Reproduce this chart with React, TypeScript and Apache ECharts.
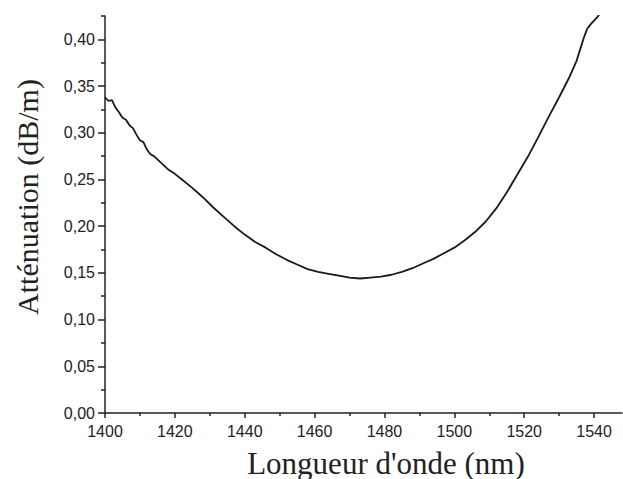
import React, { useEffect, useRef } from "react";
import * as echarts from "echarts";

const wavelengths = [
  1400, 1401, 1402, 1403, 1404, 1405, 1406, 1407, 1408, 1409, 1410, 1411, 1412, 1413, 1414,
  1416, 1418, 1420, 1422, 1425, 1428, 1431, 1434, 1437, 1440, 1443, 1446, 1449, 1452, 1455,
  1458, 1461, 1464, 1467, 1470, 1473, 1476, 1479, 1482, 1485, 1488, 1491, 1494, 1497, 1500,
  1503, 1506, 1509, 1512, 1515, 1518, 1521, 1524, 1527, 1530, 1533, 1535, 1536, 1537, 1538,
  1539, 1540, 1541, 1541.5,
];
const attenuation = [
  0.338, 0.334, 0.335, 0.327, 0.322, 0.316, 0.314, 0.308, 0.305, 0.298, 0.292, 0.29, 0.282, 0.277, 0.275,
  0.268, 0.261, 0.256, 0.25, 0.241, 0.231, 0.22, 0.21, 0.2, 0.191, 0.183, 0.177, 0.17, 0.164, 0.159,
  0.154, 0.151, 0.149, 0.147, 0.145, 0.144, 0.145, 0.146, 0.148, 0.151, 0.155, 0.16, 0.165, 0.171, 0.177,
  0.185, 0.194, 0.205, 0.219, 0.236, 0.255, 0.274, 0.295, 0.317, 0.338, 0.36, 0.377, 0.389, 0.401, 0.411,
  0.416, 0.42, 0.424, 0.427,
];
const xMajorTicks = [1400, 1420, 1440, 1460, 1480, 1500, 1520, 1540];
const xMinorTicks = [1410, 1430, 1450, 1470, 1490, 1510, 1530];
const yMajorTicks = [0, 0.05, 0.1, 0.15, 0.2, 0.25, 0.3, 0.35, 0.4];
const yMinorTicks = [0.025, 0.075, 0.125, 0.175, 0.225, 0.275, 0.325, 0.375, 0.425];
const xTitle = "Longueur d'onde (nm)";
const yTitle = "Atténuation (dB/m)";

export default function App() {
  const ref = useRef<HTMLDivElement>(null);
  useEffect(() => {
    if (!ref.current) return;
    const chart = echarts.init(ref.current, undefined, { renderer: "svg" });
    const axisColor = "#222";
    const sans = "'Liberation Sans', Arial, sans-serif";
    const serif = "'Liberation Serif', 'Times New Roman', serif";
    const xMin = 1400, xMax = 1548, yMin = 0, yMax = 0.425;
    chart.setOption({
      animation: false,
      backgroundColor: "#ffffff",
      grid: { left: 105, right: 1, top: 16, bottom: 66, containLabel: false },
      xAxis: [
        {
          type: "value", min: xMin, max: xMax, position: "bottom",
          axisLine: { onZero: false, lineStyle: { color: axisColor, width: 1.5 } },
          axisTick: { show: true, inside: false, length: 5, customValues: xMajorTicks, lineStyle: { color: axisColor, width: 1.5 } },
          axisLabel: {
            customValues: xMajorTicks, margin: 10, color: axisColor, fontSize: 16, fontFamily: sans,
            formatter: (v: number) => String(v),
          },
          splitLine: { show: false },
        },
        {
          type: "value", min: xMin, max: xMax, position: "bottom",
          axisLine: { show: false, onZero: false },
          axisTick: { show: true, inside: false, length: 3, customValues: xMinorTicks, lineStyle: { color: axisColor, width: 1.5 } },
          axisLabel: { show: false },
          splitLine: { show: false },
        },
      ],
      yAxis: [
        {
          type: "value", min: yMin, max: yMax, position: "left",
          axisLine: { show: true, onZero: false, lineStyle: { color: axisColor, width: 1.5 } },
          axisTick: { show: true, inside: false, length: 7, customValues: yMajorTicks, lineStyle: { color: axisColor, width: 1.5 } },
          axisLabel: {
            customValues: yMajorTicks, margin: 10, color: axisColor, fontSize: 16, fontFamily: sans,
            formatter: (v: number) => v.toFixed(2).replace(".", ","),
          },
          splitLine: { show: false },
        },
        {
          type: "value", min: yMin, max: yMax, position: "left",
          axisLine: { show: false, onZero: false },
          axisTick: { show: true, inside: false, length: 4, customValues: yMinorTicks, lineStyle: { color: axisColor, width: 1.5 } },
          axisLabel: { show: false },
          splitLine: { show: false },
        },
      ],
      graphic: [
        {
          type: "text", x: 386, y: 463,
          style: { text: xTitle, fontSize: 31, fontFamily: serif, fill: "#222", align: "center", verticalAlign: "middle" },
        },
        {
          type: "text", x: 27, y: 197, rotation: Math.PI / 2,
          style: { text: yTitle, fontSize: 30, fontFamily: serif, fill: "#222", align: "center", verticalAlign: "middle" },
        },
      ],
      series: [
        {
          type: "line", xAxisIndex: 0, yAxisIndex: 0, showSymbol: false, smooth: false,
          lineStyle: { color: "#1a1a1a", width: 1.8 },
          data: wavelengths.map((w, i) => [w, attenuation[i]]),
        },
      ],
    });
    return () => chart.dispose();
  }, []);
  return <div ref={ref} style={{ position: "fixed", left: 0, top: 0, width: 623, height: 479 }} />;
}
